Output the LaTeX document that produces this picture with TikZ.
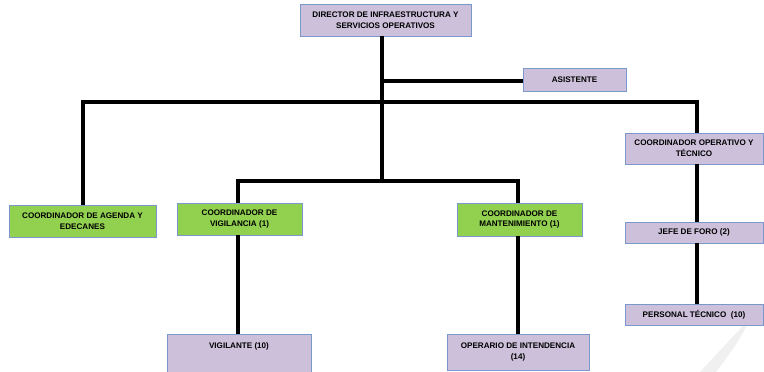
\documentclass[tikz,border=0pt]{standalone}
\usepackage{fontspec}
\setmainfont{Liberation Sans}
\definecolor{lil}{HTML}{CCC0DA}
\definecolor{grn}{HTML}{92D050}
\definecolor{bord}{HTML}{7A98CC}
\begin{document}
\begin{tikzpicture}[x=1pt,y=-1pt,
  box/.style={draw=bord, line width=0.9pt, align=center, inner sep=0pt,
     font=\fontsize{8.1}{10.7}\selectfont\bfseries},
  lbox/.style={box, fill=lil},
  gbox/.style={box, fill=grn},
  conn/.style={line width=3.3pt, line cap=rect}]
\useasboundingbox (0,0) rectangle (764,372);
% watermark swoosh
\fill[black!6] (700,372) .. controls (720,350) and (735,335) .. (750,318)
  .. controls (742,338) and (728,356) .. (716,372) -- cycle;
\node[lbox, minimum width=171, minimum height=32] (dir) at (385.5,20) {DIRECTOR DE INFRAESTRUCTURA Y\\SERVICIOS OPERATIVOS};
\node[lbox, minimum width=103, minimum height=23] (asis) at (574.5,79.5) {ASISTENTE};
\node[gbox, minimum width=147, minimum height=32] (agenda) at (82.5,221) {COORDINADOR DE AGENDA Y\\EDECANES};
\node[gbox, minimum width=125, minimum height=32] (vig) at (239.5,219) {COORDINADOR DE\\VIGILANCIA (1)};
\node[gbox, minimum width=125, minimum height=33] (mant) at (519.5,219.5) {COORDINADOR DE\\MANTENIMIENTO (1)};
\node[lbox, minimum width=138, minimum height=31] (oper) at (694,148.5) {COORDINADOR OPERATIVO Y\\TÉCNICO};
\node[lbox, minimum width=138, minimum height=21] (jefe) at (694,232.5) {JEFE DE FORO (2)};
\node[lbox, minimum width=138, minimum height=21] (pers) at (694,314.5) {PERSONAL TÉCNICO\ \ (10)};
\node[lbox, minimum width=144, minimum height=38] (vigil) at (239,353) {VIGILANTE (10)\\ \strut};
\node[lbox, minimum width=142, minimum height=36] (opint) at (518,352) {OPERARIO DE INTENDENCIA\\(14)};
% junctions
\coordinate (jA) at (382,81);
\coordinate (jT) at (382,102);
\coordinate (jB) at (382,181);
\coordinate (tl) at (83,102);
\coordinate (tr) at (697,102);
\coordinate (bl) at (238,181);
\coordinate (br) at (518,181);
% connectors
\draw[conn, line cap=butt] (dir.south -| jT) -- (jB);
\draw[conn, line cap=butt] (jA) -- (jA -| asis.west);
\draw[conn] (tl) -- (tr);
\draw[conn, line cap=butt] (tl) -- (agenda.north -| tl);
\draw[conn, line cap=butt] (tr) -- (oper.north -| tr);
\draw[conn] (bl) -- (br);
\draw[conn, line cap=butt] (bl) -- (vig.north -| bl);
\draw[conn, line cap=butt] (br) -- (mant.north -| br);
\draw[conn, line cap=butt] (vig.south -| bl) -- (vigil.north -| bl);
\draw[conn, line cap=butt] (mant.south -| br) -- (opint.north -| br);
\draw[conn, line cap=butt] (oper.south -| tr) -- (jefe.north -| tr);
\draw[conn, line cap=butt] (jefe.south -| tr) -- (pers.north -| tr);
\end{tikzpicture}
\end{document}
